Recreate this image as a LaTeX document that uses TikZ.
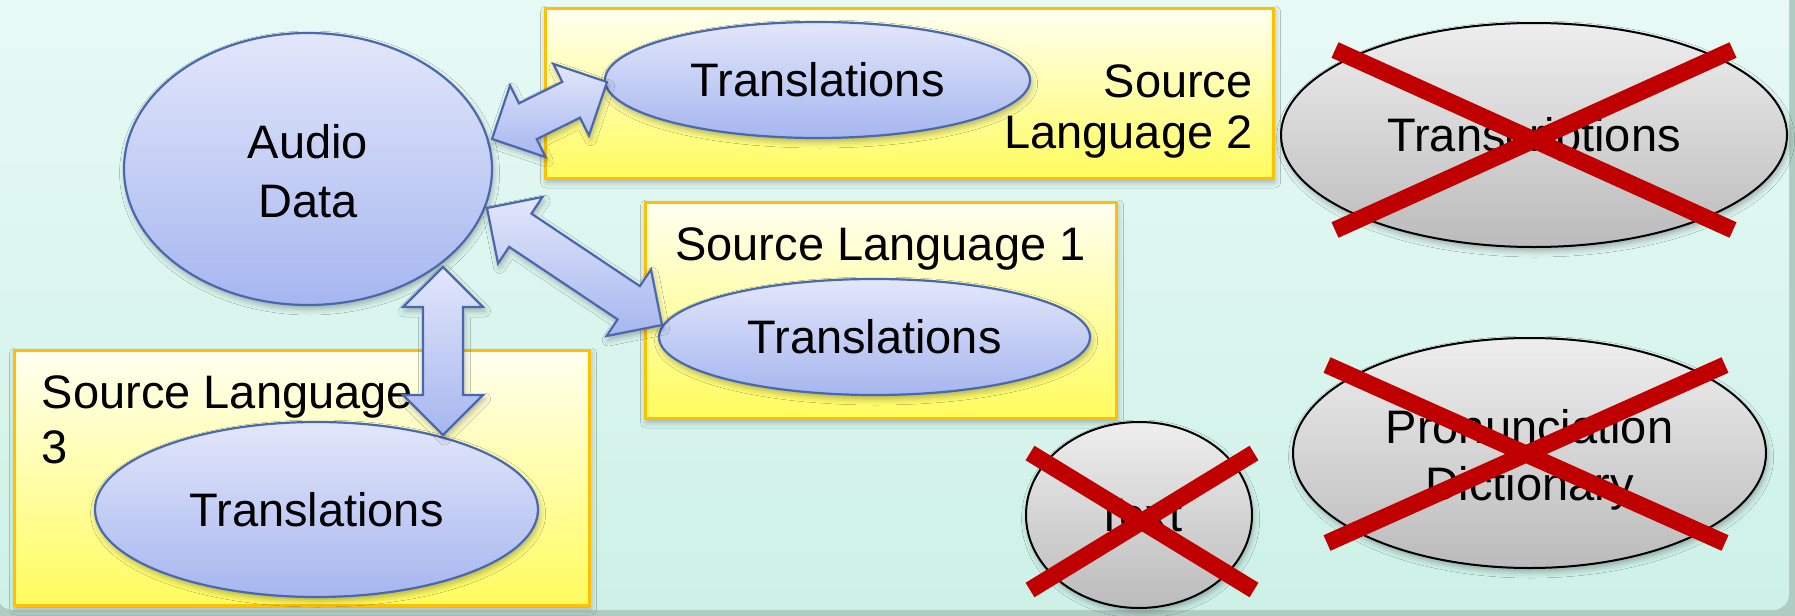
\documentclass[tikz,border=0pt]{standalone}
\usepackage{fontspec}
\setmainfont{Liberation Sans}
\usetikzlibrary{shapes.geometric,calc,shadows.blur}

\definecolor{bgtop}{HTML}{E9FAF6}
\definecolor{bgbot}{HTML}{CDF1E7}
\definecolor{bgedge}{HTML}{AFCCC3}
\definecolor{yltop}{HTML}{FFFFF2}
\definecolor{ylbot}{HTML}{FFFC5E}
\definecolor{ylline}{HTML}{FFC000}
\definecolor{bltop}{HTML}{E3E7FB}
\definecolor{blbot}{HTML}{A6B6EF}
\definecolor{blline}{HTML}{4A68B0}
\definecolor{grtop}{HTML}{EEEEEE}
\definecolor{grbot}{HTML}{BBBBBB}
\definecolor{xred}{HTML}{C00000}

\newcommand\bigfont{\fontsize{23.5pt}{28pt}\selectfont}

\tikzset{
  softshadow/.style={blur shadow={shadow xshift=0.8pt, shadow yshift=-2pt, shadow blur radius=3pt, shadow opacity=30}},
  txt/.style={inner sep=0pt, font=\bigfont},
  ybox/.style={rectangle, draw=ylline, line width=1.5pt, top color=yltop, bottom color=ylbot, inner sep=0pt, softshadow},
  bell/.style={ellipse, draw=blline, line width=1.1pt, top color=bltop, bottom color=blbot, inner sep=0pt, text height=16.8pt, text depth=0pt, font=\bigfont, softshadow},
  gell/.style={ellipse, draw=black, line width=1pt, top color=grtop, bottom color=grbot, inner sep=0pt, text height=16.8pt, text depth=0pt, font=\bigfont, softshadow},
  cross/.style={draw=xred, line width=8.5pt},
  blockarrow/.style={draw=blline, line width=1.1pt, top color=bltop, bottom color=blbot, line join=miter, softshadow}
}

% block double arrow between two named coordinates
\newcommand\blockdbl[2]{%
  \path[blockarrow] (#1) -- ($(#1)!28.28pt!45:(#2)$) -- ($(#1)!22.36pt!26.565:(#2)$)
    -- ($(#2)!22.36pt!-26.565:(#1)$) -- ($(#2)!28.28pt!-45:(#1)$) -- (#2)
    -- ($(#2)!28.28pt!45:(#1)$) -- ($(#2)!22.36pt!26.565:(#1)$)
    -- ($(#1)!22.36pt!-26.565:(#2)$) -- ($(#1)!28.28pt!-45:(#2)$) -- cycle;}

\begin{document}
\begin{tikzpicture}[x=0.5pt, y=-0.5pt]
\useasboundingbox (0,0) rectangle (1795,616);
% background panel
\fill[bgedge] (0,0) rectangle (1795,616);
\shade[top color=bgtop, bottom color=bgbot, rounded corners=8pt] (-3,-30) rectangle (1789,610);

% source language boxes
\node[ybox, minimum width=364pt, minimum height=85pt] (sl2) at (909,93) {};
\node[ybox, minimum width=235.5pt, minimum height=108pt] (sl1) at (880.5,310) {};
\node[ybox, minimum width=287.5pt, minimum height=127.5pt] (sl3) at (301.5,477.5) {};

% box labels
\node[txt, anchor=base east] (sl2a) at (1253,97) {Source};
\node[txt, anchor=base east] (sl2b) at (1253,148) {Language 2};
\node[txt, anchor=base] (sl1a) at (880.5,260) {Source Language 1};
\node[txt, anchor=base west] (sl3a) at (41.5,408) {Source Language};
\node[txt, anchor=base west] (sl3b) at (41.5,463) {3};

% blue ellipses
\node[bell, minimum width=184pt, minimum height=136pt] (audio) at (308,169) {};
\node[txt, anchor=base] (audioa) at (308,158) {Audio};
\node[txt, anchor=base] (audiob) at (308,217) {Data};
\node[bell, minimum width=212.5pt, minimum height=58pt] (tr2) at (817.5,80) {Translations};
\node[bell, minimum width=215.5pt, minimum height=58pt] (tr1) at (874.5,337) {Translations};
\node[bell, minimum width=221.5pt, minimum height=87.5pt] (tr3) at (316.5,509.5) {Translations};

% arrow end points
\coordinate (a2s) at (492,139); \coordinate (a2e) at (607,82);
\coordinate (a1s) at (487,208); \coordinate (a1e) at (662,325);
\coordinate (a3s) at (443,267); \coordinate (a3e) at (443,435);
\blockdbl{a2s}{a2e}
\blockdbl{a1s}{a1e}
\blockdbl{a3s}{a3e}

% crossed-out gray ellipses
\node[gell, minimum width=253pt, minimum height=112pt] (transcr) at (1534,135) {Transcriptions};
\node[gell, minimum width=113pt, minimum height=93pt] (textell) at (1139,515) {Text};
\node[gell, minimum width=236.5pt, minimum height=115pt] (pron) at (1529.5,453) {};
\node[txt, anchor=base] (prona) at (1529.5,443) {Pronunciation};
\node[txt, anchor=base] (pronb) at (1529.5,500) {Dictionary};

\draw[cross] ($(transcr.center)+(-199,-85)$) -- ($(transcr.center)+(199,95)$);
\draw[cross] ($(transcr.center)+(199,-85)$) -- ($(transcr.center)+(-199,95)$);
\draw[cross] ($(textell.center)+(-109,-62)$) -- ($(textell.center)+(115,75)$);
\draw[cross] ($(textell.center)+(115,-62)$) -- ($(textell.center)+(-109,75)$);
\draw[cross] ($(pron.center)+(-202.5,-88)$) -- ($(pron.center)+(195.5,90)$);
\draw[cross] ($(pron.center)+(195.5,-88)$) -- ($(pron.center)+(-202.5,90)$);
\end{tikzpicture}
\end{document}
